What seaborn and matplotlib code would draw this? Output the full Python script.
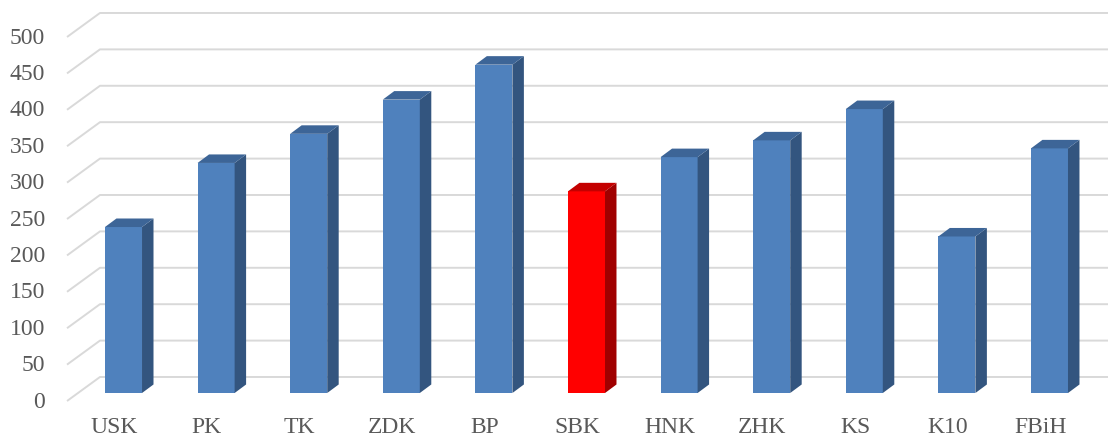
import numpy as np
import pandas as pd
import seaborn as sns
import matplotlib.pyplot as plt
from matplotlib.patches import Polygon

# Data
categories = ["USK", "PK", "TK", "ZDK", "BP", "SBK", "HNK", "ZHK", "KS", "K10", "FBiH"]
values = [228, 316, 356, 403, 451, 277, 324, 347, 390, 215, 336]
highlight = "SBK"
y_ticks = [0, 50, 100, 150, 200, 250, 300, 350, 400, 450, 500]

# Colours for the front, side and top faces of each box
BLUE = {"front": "#4F81BD", "side": "#33557F", "top": "#3D6597"}
RED = {"front": "#FF0000", "side": "#A00000", "top": "#C40000"}
GRID = "#D9D9D9"
TEXT = "#595959"

# Pseudo-3D depth of the bars and of the floor/back wall (data units)
BAR_DX, BAR_DY = 0.124, 11.7
WALL_FRONT_X, WALL_BACK_X, WALL_END_X = -0.610, -0.254, 10.75
WALL_FRONT_DY, WALL_BACK_DY = -11.0, 22.0

sns.set_theme(style="white")
plt.rcParams["font.family"] = ["Liberation Serif", "DejaVu Serif"]

fig = plt.figure(figsize=(11.08, 4.39), dpi=100)
ax = fig.add_axes([0, 0, 1, 1])

df = pd.DataFrame({"cat": categories, "val": values})
palette = {c: (RED["front"] if c == highlight else BLUE["front"]) for c in categories}
sns.barplot(data=df, x="cat", y="val", hue="cat", palette=palette, width=0.4,
            saturation=1, legend=False, ax=ax, zorder=3, linewidth=0)

# Side and top faces that give each bar its depth
for patch, cat in zip(ax.patches, categories):
    scheme = RED if cat == highlight else BLUE
    x0, w, h = patch.get_x(), patch.get_width(), patch.get_height()
    side = Polygon([(x0 + w, 0), (x0 + w + BAR_DX, BAR_DY),
                    (x0 + w + BAR_DX, h + BAR_DY), (x0 + w, h)],
                   closed=True, facecolor=scheme["side"], edgecolor="none", zorder=3)
    top = Polygon([(x0, h), (x0 + BAR_DX, h + BAR_DY),
                   (x0 + w + BAR_DX, h + BAR_DY), (x0 + w, h)],
                  closed=True, facecolor=scheme["top"], edgecolor="none", zorder=3)
    ax.add_patch(side)
    ax.add_patch(top)

# Gridlines: slanted floor segment then the back wall
for v in y_ticks:
    ax.plot([WALL_FRONT_X, WALL_BACK_X, WALL_END_X],
            [v + WALL_FRONT_DY, v + WALL_BACK_DY, v + WALL_BACK_DY],
            color=GRID, lw=1.4, zorder=1, solid_capstyle="butt")
    ax.text(-0.848, v + WALL_FRONT_DY, str(v), ha="right", va="center",
            fontsize=17, color=TEXT)

# Category labels
for i, cat in enumerate(categories):
    ax.text(i - 0.1, -60.8, cat, ha="center", va="bottom", fontsize=17, color=TEXT)

ax.set_xlim(-1.3337, 10.632)
ax.set_ylim(-61.8, 541.2)
ax.axis("off")

fig.savefig("out.png", dpi=100)
